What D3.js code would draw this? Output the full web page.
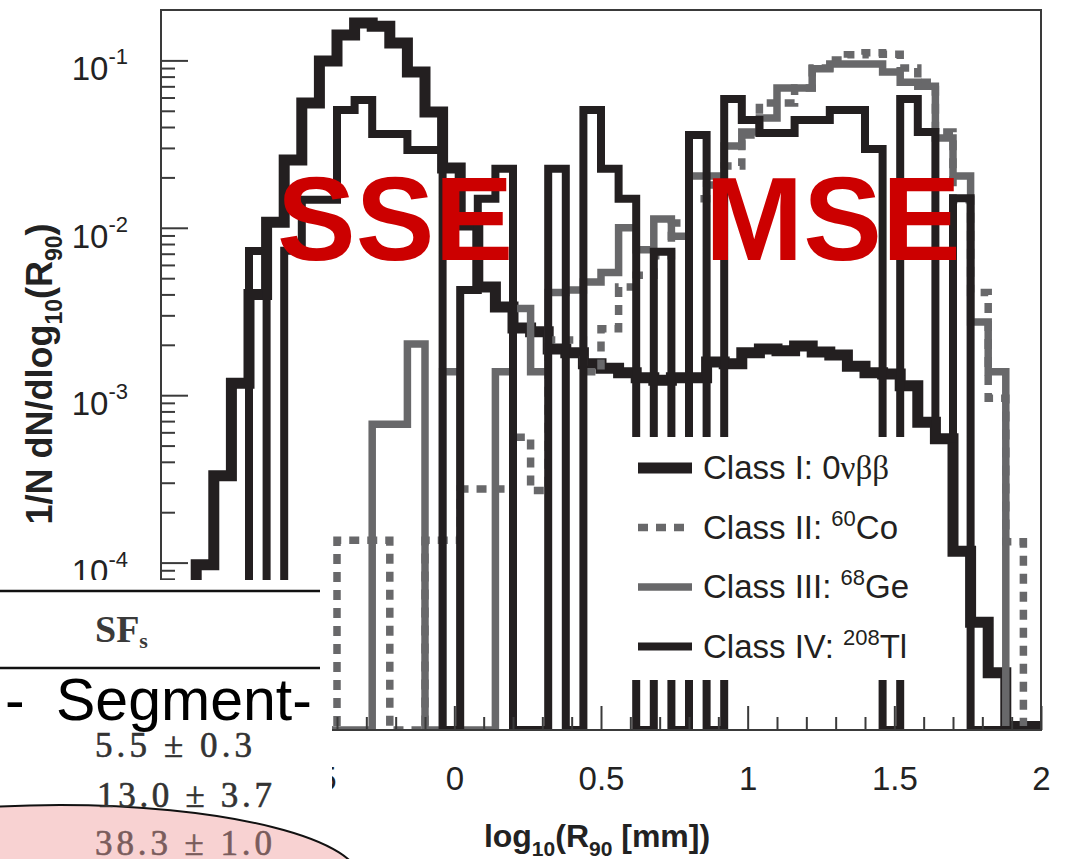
<!DOCTYPE html>
<html>
<head>
<meta charset="utf-8">
<script src="https://cdn.jsdelivr.net/npm/d3@7"></script>
<style>
  body { margin: 0; background: #fff; }
  text { white-space: pre; }
</style>
</head>
<body>
<svg id="chart" width="1071" height="859"></svg>
<script>
// 50 bins of log10(R90) from -1 to 2, width 0.06
var binStart = -1, binWidth = 0.06, nBins = 50;

// Class I: 0vbb (thick black)
var class1 = [0, 3e-5, 9.7e-5, 3.3e-4, 1.18e-3, 4.0e-3, 1.08e-2, 2.54e-2, 5.56e-2, 9.9e-2,
  0.142, 0.167, 0.160, 0.127, 0.0853, 0.0492, 0.0228, 0.0104, 4.43e-3, 3.36e-3,
  2.52e-3, 2.39e-3, 1.89e-3, 1.79e-3, 1.54e-3, 1.45e-3, 1.36e-3, 1.27e-3, 1.23e-3, 1.27e-3,
  1.27e-3, 1.58e-3, 1.54e-3, 1.79e-3, 1.89e-3, 1.84e-3, 1.97e-3, 1.81e-3, 1.74e-3, 1.49e-3,
  1.36e-3, 1.34e-3, 1.14e-3, 6.9e-4, 5.5e-4, 1.17e-4, 4.4e-5, 2.2e-5, 1.05e-5, 1.05e-5];

// Class II: 60Co (dotted grey)
var class2 = [0, 0, 0, 0, 0, 0, 0, 0, 0, 0,
  1.36e-4, 1.36e-4, 1.36e-4, 0, 0, 1.36e-4, 1.36e-4, 2.75e-4, 2.75e-4, 2.75e-4,
  5.6e-4, 2.7e-4, 2.14e-3, 2.14e-3, 1.38e-3, 2.49e-3, 4.43e-3, 5.2e-3, 6.8e-3, 1.07e-2,
  1.49e-2, 1.80e-2, 2.34e-2, 3.58e-2, 5.56e-2, 5.56e-2, 6.84e-2, 9.0e-2, 0.1005, 0.108,
  0.111, 0.109, 9.0e-2, 7.4e-2, 3.73e-2, 1.47e-2, 4.1e-3, 9.6e-4, 1.33e-4, 0];

// Class III: 68Ge (solid grey)
var class3 = [0, 0, 0, 0, 0, 0, 0, 0, 0, 0,
  0, 0, 6.7e-4, 6.7e-4, 2.02e-3, 0, 1.38e-3, 0, 0, 1.38e-3,
  3.3e-3, 1.38e-3, 4.1e-3, 4.25e-3, 4.75e-3, 5.4e-3, 1.0e-2, 7.4e-3, 1.13e-2, 8.9e-3,
  2.04e-2, 2.04e-2, 3.08e-2, 3.73e-2, 4.53e-2, 6.84e-2, 6.84e-2, 8.9e-2, 9.5e-2, 9.5e-2,
  9.5e-2, 8.53e-2, 7.4e-2, 7.0e-2, 3.44e-2, 2.04e-2, 2.74e-3, 1.38e-3, 0, 0];

// Class IV: 208Tl (black)
var class4 = [0, 0, 0, 0, 0, 7.26e-3, 0, 7.3e-3, 1.47e-2, 1.47e-2,
  5.06e-2, 5.8e-2, 3.63e-2, 3.63e-2, 2.92e-2, 2.92e-2, 0, 4.25e-3, 1.49e-2, 2.25e-2,
  0, 0, 2.25e-2, 0, 5.06e-2, 2.25e-2, 1.49e-2, 0, 7.2e-3, 0,
  3.58e-2, 0, 5.88e-2, 4.41e-2, 3.68e-2, 3.68e-2, 4.41e-2, 4.41e-2, 5.06e-2, 5.06e-2,
  2.96e-2, 0, 5.88e-2, 3.73e-2, 5.5e-4, 1.5e-2, 0, 0, 0, 0];

var xMajor = [-1, -0.5, 0, 0.5, 1, 1.5, 2];
var yMajor = [1e-4, 1e-3, 1e-2, 1e-1];
var legendText = [["Class I: 0", "", "\u03bd\u03b2\u03b2"], ["Class II: ", "60", "Co"],
                  ["Class III: ", "68", "Ge"], ["Class IV: ", "208", "Tl"]];
var regionLabels = ["SSE", "MSE"];
var tableValues = ["5.5 \u00b1 0.3", "13.0 \u00b1 3.7", "38.3 \u00b1 1.0"];

var black = "#231f20", grey = "#68686a";
var styles = [
  { color: black, width: 11, dash: null },
  { color: grey, width: 7.5, dash: "10,8" },
  { color: grey, width: 7.5, dash: null },
  { color: black, width: 8, dash: null }
];
var series = [class1, class2, class3, class4];

var svg = d3.select("#chart"),
  pL = 161, pT = 10, pR = 1041, pB = 730,
  font = "'Liberation Sans', Arial, Helvetica, sans-serif",
  serif = "'Liberation Serif', 'Times New Roman', serif";

var x = d3.scaleLinear().domain([-1, 2]).range([pL, pR]);
var y = d3.scaleLog().domain([1e-5, 0.2]).range([pB, pT]);
var yMin = y.domain()[0];

var edges = d3.range(nBins + 1).map(function (i) { return binStart + i * binWidth; });

svg.append("defs").append("clipPath").attr("id", "frame")
  .append("rect").attr("x", pL).attr("y", pT)
  .attr("width", pR - pL).attr("height", pB - pT);

var line = d3.line()
  .x(function (d) { return x(d[0]); })
  .y(function (d) { return d[1] > 0 ? y(Math.max(d[1], yMin)) : y(yMin); })
  .curve(d3.curveStepAfter);

function histPoints(vals) {
  var pts = [[edges[0], 0]];
  vals.forEach(function (v, i) { pts.push([edges[i], v]); });
  pts.push([edges[nBins], vals[nBins - 1]]);
  pts.push([edges[nBins], 0]);
  return pts;
}

var g = svg.append("g").attr("clip-path", "url(#frame)");
g.selectAll("path.hist")
  .data(series)
  .enter().append("path")
  .attr("class", "hist")
  .attr("d", function (d) { return line(histPoints(d)); })
  .attr("fill", "none")
  .attr("stroke", function (d, i) { return styles[i].color; })
  .attr("stroke-width", function (d, i) { return styles[i].width; })
  .attr("stroke-dasharray", function (d, i) { return styles[i].dash; })
  .attr("stroke-linejoin", "miter")
  .attr("stroke-linecap", "butt");

// legend (white box hides the lines behind it)
var lg = svg.append("g");
lg.append("rect").attr("x", 632).attr("y", 437).attr("width", 280).attr("height", 243).attr("fill", "#fff");
legendText.forEach(function (parts, i) {
  var ry = 468 + i * 59.5;
  lg.append("line").attr("x1", 638).attr("x2", 692).attr("y1", ry).attr("y2", ry)
    .attr("stroke", styles[i].color).attr("stroke-width", styles[i].width)
    .attr("stroke-dasharray", styles[i].dash);
  var t = lg.append("text").attr("x", 703).attr("y", ry + 11)
    .attr("font-family", font).attr("font-size", 33).attr("fill", black);
  t.append("tspan").text(parts[0]);
  if (parts[1]) {
    t.append("tspan").attr("font-size", 22).attr("dy", -13).text(parts[1]);
    t.append("tspan").attr("dy", 13).text(parts[2]);
  } else {
    t.append("tspan").attr("font-family", serif).text(parts[2]);
  }
});

// axes
var xMinor = x.ticks(30).filter(function (d) { return xMajor.indexOf(+d.toFixed(1)) < 0; });
var gxm = svg.append("g").attr("transform", "translate(0," + pB + ")")
  .call(d3.axisBottom(x).tickValues(xMinor).tickSize(-13).tickFormat(""));
var gx = svg.append("g").attr("transform", "translate(0," + pB + ")")
  .call(d3.axisBottom(x).tickValues(xMajor).tickSize(-24).tickPadding(37)
    .tickFormat(function (d) { return String(d); }));
gx.selectAll("text").attr("font-family", font).attr("font-size", 33).attr("fill", "#222");

var yMinor = y.ticks().filter(function (d) { return yMajor.indexOf(d) < 0 && d < y.domain()[1] && d > yMin; });
var gym = svg.append("g").attr("transform", "translate(" + pL + ",0)")
  .call(d3.axisLeft(y).tickValues(yMinor).tickSize(-14).tickFormat(""));
var gy = svg.append("g").attr("transform", "translate(" + pL + ",0)")
  .call(d3.axisLeft(y).tickValues(yMajor).tickSize(-27).tickFormat(""));

[gxm, gx, gym, gy].forEach(function (a) {
  a.select(".domain").remove();
  a.selectAll(".tick line").attr("stroke", "#3a3a3a").attr("stroke-width", 2);
});

yMajor.forEach(function (v) {
  var t = svg.append("text").attr("x", 128).attr("y", y(v) + 20)
    .attr("text-anchor", "end").attr("font-family", font).attr("font-size", 33).attr("fill", "#222");
  t.append("tspan").text("10");
  t.append("tspan").attr("font-size", 22).attr("dy", -16).text("-" + Math.round(-Math.log10(v)));
});

svg.append("rect").attr("x", pL).attr("y", pT).attr("width", pR - pL).attr("height", pB - pT)
  .attr("fill", "none").attr("stroke", "#3a3a3a").attr("stroke-width", 2);

// axis titles
var xt = svg.append("text").attr("x", 597).attr("y", 847).attr("text-anchor", "middle")
  .attr("font-family", font).attr("font-weight", "bold").attr("font-size", 32).attr("fill", "#222");
xt.append("tspan").text("log");
xt.append("tspan").attr("font-size", 21).attr("dy", 9).text("10");
xt.append("tspan").attr("dy", -9).text("(R");
xt.append("tspan").attr("font-size", 21).attr("dy", 9).text("90");
xt.append("tspan").attr("dy", -9).text(" [mm])");

var yt = svg.append("text").attr("transform", "translate(52,374) rotate(-90)").attr("text-anchor", "middle")
  .attr("font-family", font).attr("font-weight", "bold").attr("font-size", 36).attr("fill", "#222");
yt.append("tspan").text("1/N dN/dlog");
yt.append("tspan").attr("font-size", 23).attr("dy", 10).text("10");
yt.append("tspan").attr("dy", -10).text("(R");
yt.append("tspan").attr("font-size", 23).attr("dy", 10).text("90");
yt.append("tspan").attr("dy", -10).text(")");

// red region labels
svg.selectAll("text.region").data(regionLabels).enter().append("text")
  .attr("class", "region")
  .attr("x", function (d, i) { return i === 0 ? 277 : 705; })
  .attr("y", 260)
  .attr("font-family", font).attr("font-weight", "bold").attr("font-size", 118)
  .attr("fill", "#cc0000")
  .text(function (d) { return d; });

// table fragment pasted over the lower left corner
var tb = svg.append("g");
tb.append("rect").attr("x", 0).attr("y", 580).attr("width", 332).attr("height", 279).attr("fill", "#fff");
tb.append("line").attr("x1", 0).attr("x2", 320).attr("y1", 591).attr("y2", 591).attr("stroke", "#111").attr("stroke-width", 2.5);
tb.append("line").attr("x1", 0).attr("x2", 320).attr("y1", 668).attr("y2", 668).attr("stroke", "#111").attr("stroke-width", 2.5);
var sf = tb.append("text").attr("x", 95).attr("y", 642)
  .attr("font-family", serif).attr("font-weight", "bold")
  .attr("font-size", 38).attr("fill", "#3a3a3a");
sf.append("tspan").text("SF");
sf.append("tspan").attr("font-size", 22).attr("dy", 6).text("s");
tb.append("text").attr("x", 5).attr("y", 720).attr("font-family", font).attr("font-size", 59).attr("fill", "#000").text("-");
tb.append("text").attr("x", 56).attr("y", 720).attr("font-family", font).attr("font-size", 59).attr("fill", "#000").text("Segment-");
tb.append("ellipse").attr("cx", 60).attr("cy", 880).attr("rx", 300).attr("ry", 75)
  .attr("fill", "#f8d2d2").attr("stroke", "#111").attr("stroke-width", 2);
var rowX = [95, 97, 95], rowY = [757, 807, 855], rowW = [157, 175, 177];
tb.selectAll("text.val").data(tableValues).enter().append("text")
  .attr("class", "val")
  .attr("x", function (d, i) { return rowX[i]; })
  .attr("y", function (d, i) { return rowY[i]; })
  .attr("textLength", function (d, i) { return rowW[i]; })
  .attr("lengthAdjust", "spacing")
  .attr("font-family", serif)
  .attr("font-size", 35)
  .attr("stroke", function (d, i) { return i === 2 ? "#7a5c5c" : "#333"; })
  .attr("stroke-width", 0.6)
  .attr("fill", function (d, i) { return i === 2 ? "#7a5c5c" : "#333"; })
  .text(function (d) { return d; });
</script>
</body>
</html>
